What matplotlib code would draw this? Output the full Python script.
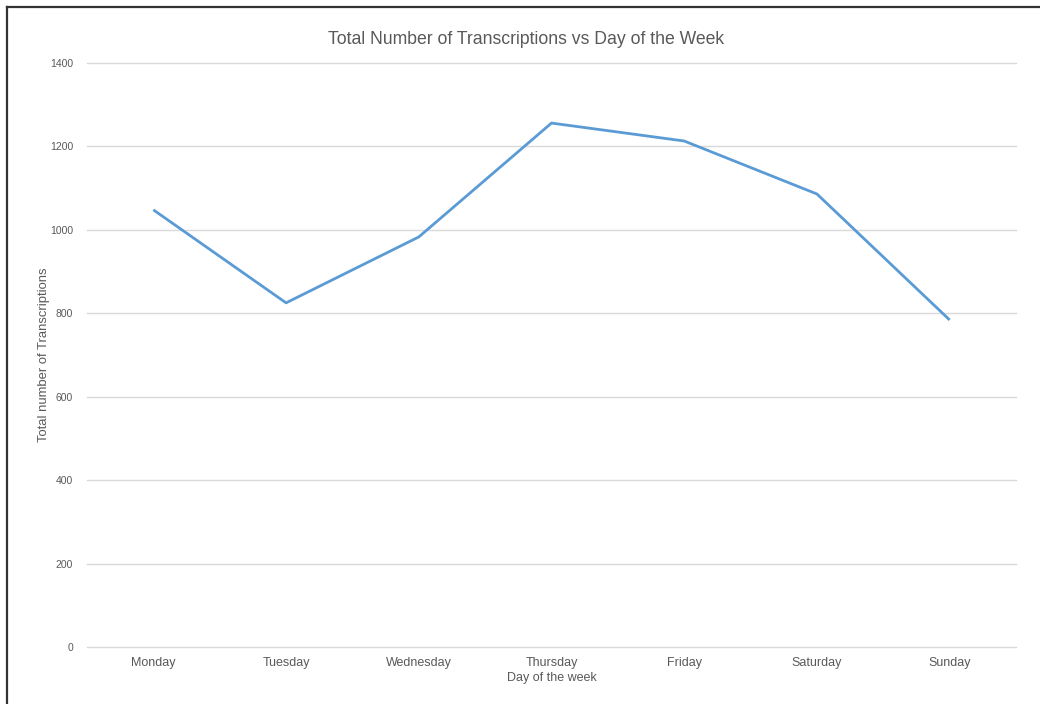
import matplotlib.pyplot as plt
from matplotlib.lines import Line2D

# -----------------------------
# Data
# -----------------------------
days = ["Monday", "Tuesday", "Wednesday", "Thursday", "Friday", "Saturday", "Sunday"]
transcriptions = [1048, 825, 983, 1256, 1213, 1086, 784]
y_ticks = [0, 200, 400, 600, 800, 1000, 1200, 1400]

text_grey = "#595959"
plt.rcParams["font.family"] = ["Liberation Sans", "DejaVu Sans"]

fig = plt.figure(figsize=(10.4, 7.04), dpi=100)
ax = fig.add_axes([87 / 1040, 57 / 704, 929 / 1040, 584 / 704])

x = list(range(len(days)))
ax.plot(x, transcriptions, color="#5B9BD5", linewidth=2.0, solid_capstyle="butt")

ax.set_xlim(-0.5, len(days) - 0.5)
ax.set_ylim(0, 1400)
ax.set_yticks(y_ticks)
ax.set_xticks(x)
ax.set_xticklabels(days)
ax.grid(axis="y", color="#D9D9D9", linewidth=1.0)
for gl in ax.get_ygridlines():
    gl.set_clip_on(False)
ax.set_axisbelow(True)
for s in ax.spines.values():
    s.set_visible(False)
ax.tick_params(axis="both", length=0, colors=text_grey)
ax.tick_params(axis="x", labelsize=9, pad=7)
ax.tick_params(axis="y", labelsize=7.5, pad=10)

ax.set_xlabel("Day of the week", fontsize=9, color=text_grey, labelpad=2)
ax.set_ylabel("Total number of Transcriptions", fontsize=9.4, color=text_grey, labelpad=0)

# title is centred on the whole chart, not on the plot area
fig.text(526 / 1040, 1 - 39 / 704, "Total Number of Transcriptions vs Day of the Week",
         fontsize=12.7, color=text_grey, ha="center", va="center")

# frame around the chart (left and top edges visible)
fig.add_artist(Line2D([7 / 1040, 7 / 1040], [0, 1 - 7 / 704], transform=fig.transFigure,
                      color="#333333", linewidth=1.6))
fig.add_artist(Line2D([7 / 1040, 1], [1 - 7 / 704, 1 - 7 / 704], transform=fig.transFigure,
                      color="#333333", linewidth=1.6))

fig.savefig("out.png", dpi=100)
